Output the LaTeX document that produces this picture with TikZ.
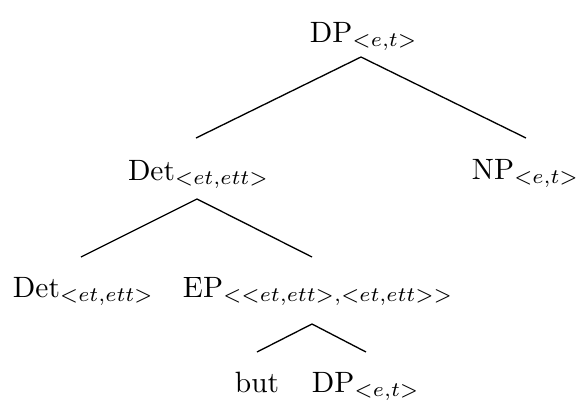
\documentclass[tikz,border=0pt]{standalone}
\begin{document}
\begin{tikzpicture}[x=0.34pt,y=-0.34pt,
  lbl/.style={anchor=base west,inner sep=0pt,outer sep=0pt},
  edge/.style={line width=0.45pt}]
\useasboundingbox (0,0) rectangle (576,402);
\node[lbl] (root) at (310,42) {DP$_{<e,t>}$};
\node[lbl] (det1) at (128,180) {Det$_{<et,ett>}$};
\node[lbl] (np) at (472,179) {NP$_{<e,t>}$};
\node[lbl] (det2) at (13,297) {Det$_{<et,ett>}$};
\node[lbl] (ep) at (183,297) {EP$_{<<et,ett>,<et,ett>>}$};
\node[lbl] (but) at (235,392) {but};
\node[lbl] (dp2) at (312,392) {DP$_{<e,t>}$};
\coordinate (a0) at (361,57);
\coordinate (l0) at (196,138);
\coordinate (r0) at (526,138);
\coordinate (a1) at (197,199);
\coordinate (l1) at (81,257);
\coordinate (r1) at (312,257);
\coordinate (a2) at (312,324);
\coordinate (l2) at (257,352);
\coordinate (r2) at (366,352);
\draw[edge] (l0) -- (a0) -- (r0);
\draw[edge] (l1) -- (a1) -- (r1);
\draw[edge] (l2) -- (a2) -- (r2);
\end{tikzpicture}
\end{document}
